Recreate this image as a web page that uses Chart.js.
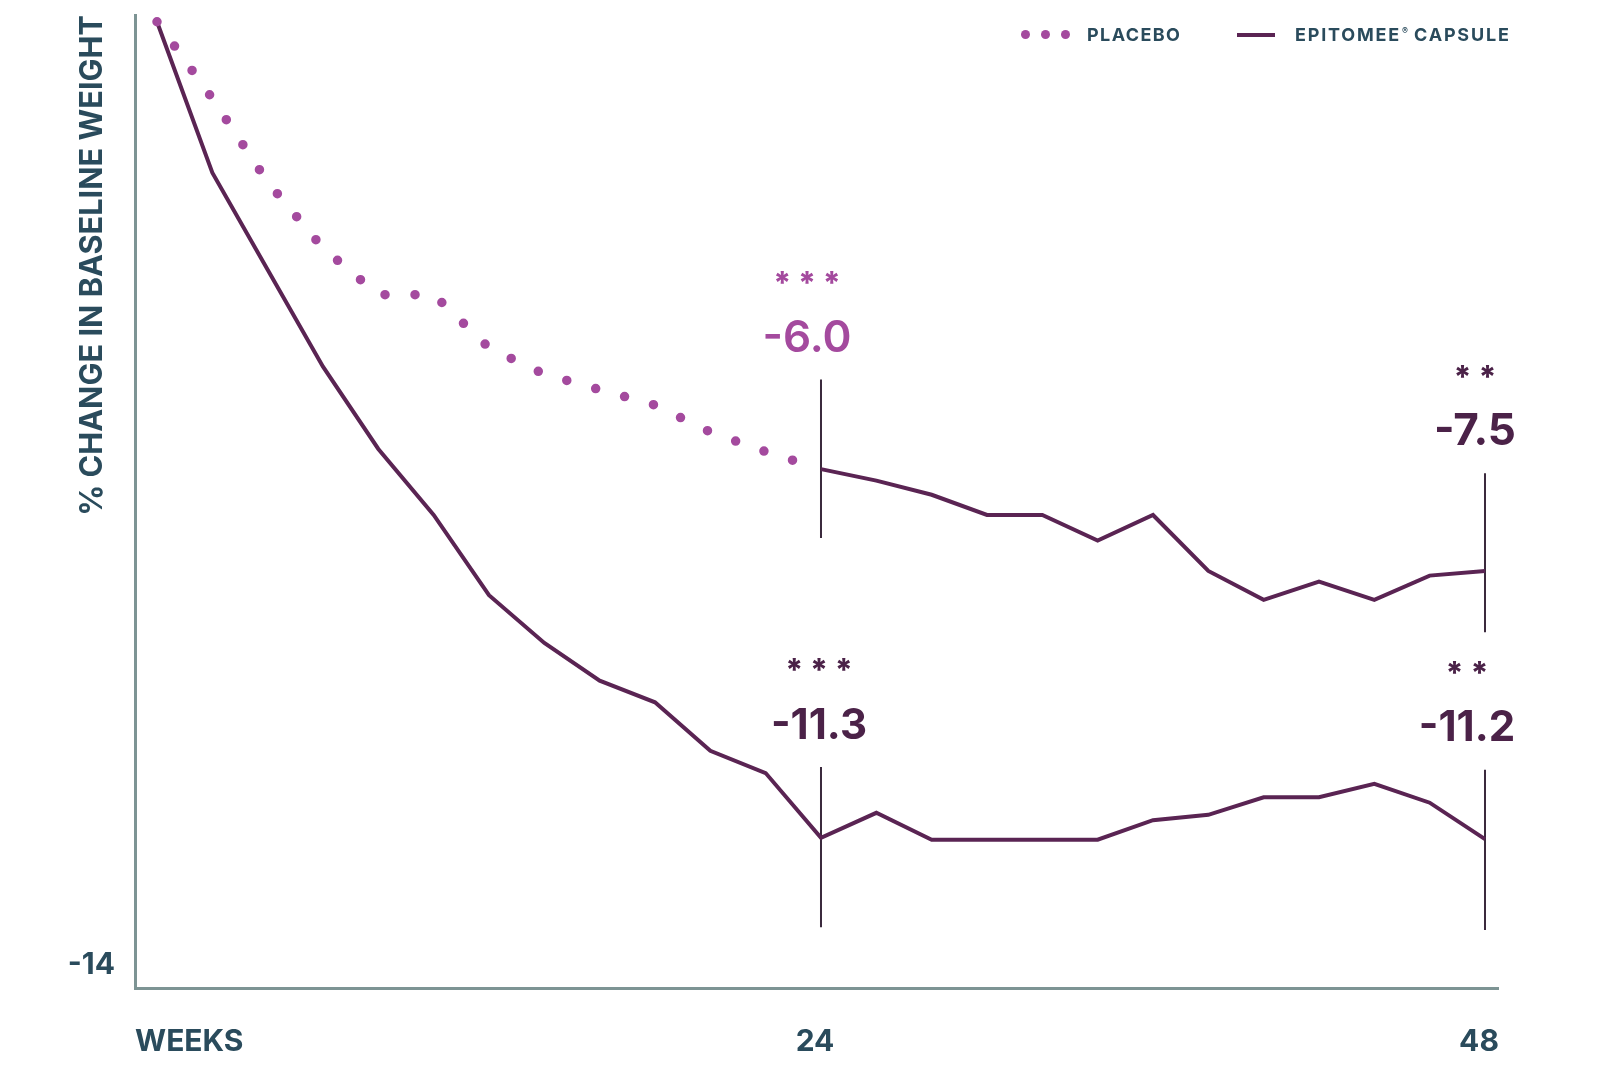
<!DOCTYPE html>
<html>
<head>
<meta charset="utf-8">
<title>% change in baseline weight</title>
<script src="https://cdn.jsdelivr.net/npm/chart.js@4.4.1/dist/chart.umd.min.js"></script>
<style>
  html, body { margin: 0; padding: 0; background: #ffffff; }
  #wrap { position: relative; width: 1600px; height: 1067px; }
  #legend { font-family: Inter, "Noto Sans", sans-serif; font-weight: 700; font-size: 18px; color: #2a4b5c; letter-spacing: 1.4px; }
  #legend .item { position: absolute; top: 24px; height: 22px; line-height: 22px; white-space: nowrap; }
  #legend .dot { position: absolute; top: 30px; width: 9px; height: 9px; border-radius: 50%; background: #a44a9e; }
  #legend .bar { position: absolute; top: 33px; width: 38px; height: 4px; background: #5a2453; }
  #legend sup { font-size: 9px; position: relative; top: -7px; vertical-align: baseline; letter-spacing: 0; margin-left: 1px; }
  #legendEpitomee { letter-spacing: 1.8px; }
</style>
</head>
<body>
<div id="wrap">
  <canvas id="weightChart" width="1600" height="1067"></canvas>
  <div id="legend">
    <span class="dot" style="left:1021px"></span>
    <span class="dot" style="left:1041px"></span>
    <span class="dot" style="left:1061px"></span>
    <span class="item" id="legendPlacebo" style="left:1087px"></span>
    <span class="bar" style="left:1237px"></span>
    <span class="item" id="legendEpitomee" style="left:1295px"></span>
  </div>
</div>
<script>
// weeks of the study, one reading every 2 weeks
const weeks = [0, 2, 4, 6, 8, 10, 12, 14, 16, 18, 20, 22, 24, 26, 28, 30, 32, 34, 36, 38, 40, 42, 44, 46, 48];

// placebo arm (switched to capsule after week 24)
const placebo = [0, -1.14, -2.38, -3.36, -4.05, -4.05, -4.84, -5.23, -5.46, -5.69, -6.09, -6.38, -6.64,
  -6.81, -7.02, -7.32, -7.32, -7.70, -7.32, -8.15, -8.58, -8.31, -8.58, -8.22, -8.15];

// Epitomee capsule arm
const epitomee = [0, -2.24, -3.68, -5.12, -6.34, -7.32, -8.51, -9.22, -9.78, -10.10, -10.82, -11.15, -12.11,
  -11.74, -12.14, -12.14, -12.14, -12.14, -11.85, -11.77, -11.51, -11.51, -11.31, -11.59, -12.13];

// vertical bars at the two endpoints
const barWeeks = [24, 24, 48, 48];
const barTop = [-5.31, -11.06, -6.70, -11.10];
const barBottom = [-7.66, -13.44, -9.06, -13.48];

// labels above each bar
const noteValues = ["-6.0", "-11.3", "-7.5", "-11.2"];
const noteStars = ["* * *", "* * *", "* *", "* *"];

const xTickWeeks = [24, 48];
const yTickValues = [-14];
const legendLabels = ["PLACEBO", "EPITOMEE® CAPSULE"];

const SWITCH_WEEK = 24;
const textColor = "#2a4b5c";
const axisColor = "#7d9494";
const magenta = "#a44a9e";
const plum = "#5a2453";
const noteColors = [magenta, "#4b2248", "#4b2248", "#4b2248"];
const noteFonts = ["600 44px Inter", "700 42px Inter", "700 44px Inter", "700 42px Inter"];
const noteShift = [-14, -2, -10, -18]; // px, labels are not centred on the bars

document.getElementById("legendPlacebo").textContent = legendLabels[0];
document.getElementById("legendEpitomee").innerHTML =
  legendLabels[1].replace("®", "<sup>®</sup>");

function points(values, from, to) {
  const out = [];
  weeks.forEach((w, i) => {
    if (w >= from && w <= to) out.push({ x: w, y: values[i] });
  });
  return out;
}

const datasets = [
  {
    label: "Placebo",
    data: points(placebo, 0, SWITCH_WEEK),
    borderColor: magenta,
    borderWidth: 9.5,
    borderDash: [0, 30],
    borderCapStyle: "round",
    pointRadius: 0,
    tension: 0
  },
  {
    label: "Placebo to capsule",
    data: points(placebo, SWITCH_WEEK, 48),
    borderColor: plum,
    borderWidth: 4,
    pointRadius: 0,
    tension: 0
  },
  {
    label: "Epitomee capsule",
    data: points(epitomee, 0, 48),
    borderColor: plum,
    borderWidth: 4,
    pointRadius: 0,
    tension: 0
  }
];

barWeeks.forEach((w, i) => {
  datasets.push({
    label: "bar " + i,
    data: [{ x: w, y: barTop[i] }, { x: w, y: barBottom[i] }],
    borderColor: "#3b2a3d",
    borderWidth: 2,
    pointRadius: 0
  });
});

const notesPlugin = {
  id: "notes",
  afterDatasetsDraw(chart) {
    const { ctx, scales: { x, y } } = chart;
    ctx.save();
    ctx.textAlign = "center";
    ctx.textBaseline = "middle";
    barWeeks.forEach((w, i) => {
      const px = x.getPixelForValue(w) + noteShift[i];
      const top = y.getPixelForValue(barTop[i]);
      ctx.fillStyle = noteColors[i];
      ctx.font = noteFonts[i];
      ctx.fillText(noteValues[i], px, top - 41);
      ctx.font = "800 31px Inter";
      ctx.fillText(noteStars[i], px, top - 95);
    });
    ctx.restore();
  }
};

// drop the extra room Chart.js keeps for half a tick label
function noScalePadding(s) {
  s.paddingTop = 0;
  s.paddingBottom = 0;
  s.paddingLeft = 0;
  s.paddingRight = 0;
}

new Chart(document.getElementById("weightChart"), {
  type: "line",
  data: { datasets },
  plugins: [notesPlugin],
  options: {
    responsive: false,
    animation: false,
    layout: { padding: { top: 15, right: 102, left: 0, bottom: 0 } },
    plugins: {
      legend: { display: false },
      tooltip: { enabled: false }
    },
    scales: {
      x: {
        type: "linear",
        min: -0.795,
        max: 48.47,
        afterBuildTicks: (s) => { s.ticks = xTickWeeks.map((v) => ({ value: v })); },
        afterFit: (s) => { s.height = 79; noScalePadding(s); },
        grid: { display: false },
        border: { display: true, color: axisColor, width: 3 },
        ticks: {
          color: textColor,
          padding: 28,
          labelOffset: -6,
          font: { family: "Inter", size: 30, weight: "700", lineHeight: 1.2 },
          callback: (v) => String(v)
        },
        title: {
          display: true,
          text: "WEEKS",
          align: "start",
          color: textColor,
          font: { family: "Inter", size: 30, weight: "700", lineHeight: 1 },
          padding: { top: 0, bottom: 10 }
        }
      },
      y: {
        type: "linear",
        min: -14.34,
        max: 0.1,
        afterBuildTicks: (s) => { s.ticks = yTickValues.map((v) => ({ value: v })); },
        afterFit: (s) => { s.width = 135; noScalePadding(s); },
        grid: { display: false },
        border: { display: true, color: axisColor, width: 3 },
        ticks: {
          color: textColor,
          padding: 12,
          font: { family: "Inter", size: 30, weight: "700" },
          callback: (v) => String(v)
        },
        title: {
          display: true,
          text: "% CHANGE IN BASELINE WEIGHT",
          align: "end",
          color: textColor,
          font: { family: "Inter", size: 30.7, weight: "700", lineHeight: 1 },
          padding: { top: 77, bottom: 0 }
        }
      }
    }
  }
});
</script>
</body>
</html>
